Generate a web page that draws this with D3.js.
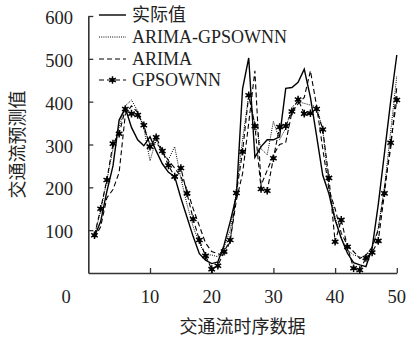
<!DOCTYPE html>
<html>
<head>
<meta charset="utf-8">
<script src="https://cdn.jsdelivr.net/npm/d3@7"></script>
<style>
  html, body { margin: 0; padding: 0; background: #fff; }
  svg { display: block; }
</style>
</head>
<body>
<svg id="chart" width="408" height="338"></svg>
<script>
// Time index of the traffic-flow samples
const steps = d3.range(1, 51);

// Series values (vehicles) for each time step
const actual = [85, 120, 190, 250, 357, 385, 340, 311, 297, 318,
                285, 255, 235, 225, 175, 130, 85, 45, 30, 22,
                26, 65, 120, 180, 430, 502, 270, 295, 311, 311,
                318, 431, 433, 445, 476, 410, 320, 228, 185, 124,
                81, 46, 24, 19, 15, 58, 160, 280, 400, 509];
const hybrid = [88, 145, 215, 290, 340, 390, 404, 378, 338, 262,
                311, 280, 265, 295, 221, 160, 108, 69, 42, 42,
                38, 60, 100, 190, 311, 415, 350, 290, 276, 354,
                311, 338, 387, 400, 396, 392, 388, 334, 201, 130,
                80, 54, 42, 38, 32, 60, 105, 200, 330, 460];
const arima = [82, 108, 175, 195, 235, 370, 390, 375, 340, 300,
               305, 285, 262, 245, 225, 195, 150, 110, 70, 50,
               45, 40, 75, 170, 232, 350, 472, 205, 240, 275,
               300, 305, 375, 395, 410, 472, 390, 290, 195, 150,
               93, 65, 50, 34, 42, 60, 100, 200, 290, 435];
const gpsownn = [88, 150, 217, 302, 325, 383, 372, 369, 345, 295,
                 317, 285, 251, 225, 245, 186, 126, 77, 40, 9,
                 17, 50, 77, 187, 283, 415, 343, 196, 192, 268,
                 341, 343, 377, 405, 372, 373, 383, 335, 222, 73,
                 124, 61, 11, 7, 35, 48, 75, 186, 304, 404];

const xTicks = [10, 20, 30, 40, 50];
const yTicks = [100, 200, 300, 400, 500, 600];
const seriesNames = ["实际值", "ARIMA-GPSOWNN", "ARIMA", "GPSOWNN"];

const svg = d3.select("#chart");
const serif = "'Liberation Serif', 'Times New Roman', serif";
const cjk = "'Noto Sans CJK SC', sans-serif";

const x = d3.scaleLinear().domain([0, 50]).range([88.3, 396.8]);
const y = d3.scaleLinear().domain([0, 600]).range([273, 16]);

// Axes: range-frame style, ticks pointing inward, labels drawn separately
const axisColor = "#333";
const xAxis = svg.append("g").attr("transform", `translate(0,${y(0)})`)
  .call(d3.axisBottom(x).tickValues(xTicks).tickSizeInner(-5).tickSizeOuter(0).tickFormat(""));
const yAxis = svg.append("g").attr("transform", `translate(${x(0)},0)`)
  .call(d3.axisLeft(y).tickValues(yTicks).tickSizeInner(-5).tickSizeOuter(0).tickFormat(""));
[xAxis, yAxis].forEach(g => {
  g.select(".domain").attr("stroke", axisColor).attr("stroke-width", 1.6);
  g.selectAll(".tick line").attr("stroke", axisColor).attr("stroke-width", 1.3);
});

// Tick labels
svg.append("g").selectAll("text").data([0].concat(xTicks)).join("text")
  .attr("x", d => d === 0 ? 66 : x(d))
  .attr("y", 303)
  .attr("text-anchor", "middle")
  .attr("font-family", serif).attr("font-size", 18.5).attr("fill", "#222")
  .text(d => d);
svg.append("g").selectAll("text").data(yTicks).join("text")
  .attr("x", 73)
  .attr("y", d => y(d) + 8)
  .attr("text-anchor", "end")
  .attr("font-family", serif).attr("font-size", 18.5).attr("fill", "#222")
  .text(d => d);

// Axis titles
svg.append("text")
  .attr("x", (x(0) + x(50)) / 2).attr("y", 333)
  .attr("text-anchor", "middle")
  .attr("font-family", cjk).attr("font-size", 18).attr("fill", "#222")
  .text("交通流时序数据");
svg.append("text")
  .attr("transform", `translate(24,${(y(0) + y(600)) / 2}) rotate(-90)`)
  .attr("text-anchor", "middle")
  .attr("font-family", cjk).attr("font-size", 18).attr("fill", "#222")
  .text("交通流预测值");

// Lines
const line = d3.line().x((d, i) => x(steps[i])).y(d => y(d));
const styles = [
  { data: actual,  width: 1.4, dash: null },
  { data: hybrid,  width: 1.0, dash: "1,1.2" },
  { data: arima,   width: 1.1, dash: "5,3" },
  { data: gpsownn, width: 1.1, dash: "5,3" }
];
styles.forEach(s => {
  svg.append("path").datum(s.data)
    .attr("d", line)
    .attr("fill", "none")
    .attr("stroke", "#000")
    .attr("stroke-width", s.width)
    .attr("stroke-dasharray", s.dash)
    .attr("stroke-linejoin", "miter");
});

// Star markers for the GPSOWNN series
const star = d3.symbol().type(d3.symbolAsterisk).size(40);
function drawStar(g, cx, cy) {
  g.append("path").attr("d", star()).attr("transform", `translate(${cx},${cy})`)
    .attr("fill", "none").attr("stroke", "#000").attr("stroke-width", 1.5);
  g.append("circle").attr("cx", cx).attr("cy", cy).attr("r", 2).attr("fill", "#000");
}
const markers = svg.append("g");
gpsownn.forEach((v, i) => drawStar(markers, x(steps[i]), y(v)));

// Legend
const legend = svg.append("g");
const rowY = [15, 37, 59, 80];
styles.forEach((s, i) => {
  legend.append("line")
    .attr("x1", 99).attr("x2", 126).attr("y1", rowY[i]).attr("y2", rowY[i])
    .attr("stroke", "#000").attr("stroke-width", s.width)
    .attr("stroke-dasharray", s.dash);
  if (i === 3) drawStar(legend, 112.5, rowY[i]);
  legend.append("text")
    .attr("x", 132).attr("y", rowY[i] + 6)
    .attr("font-family", i === 0 ? cjk : serif)
    .attr("font-size", 18).attr("fill", "#222")
    .text(seriesNames[i]);
});
</script>
</body>
</html>
